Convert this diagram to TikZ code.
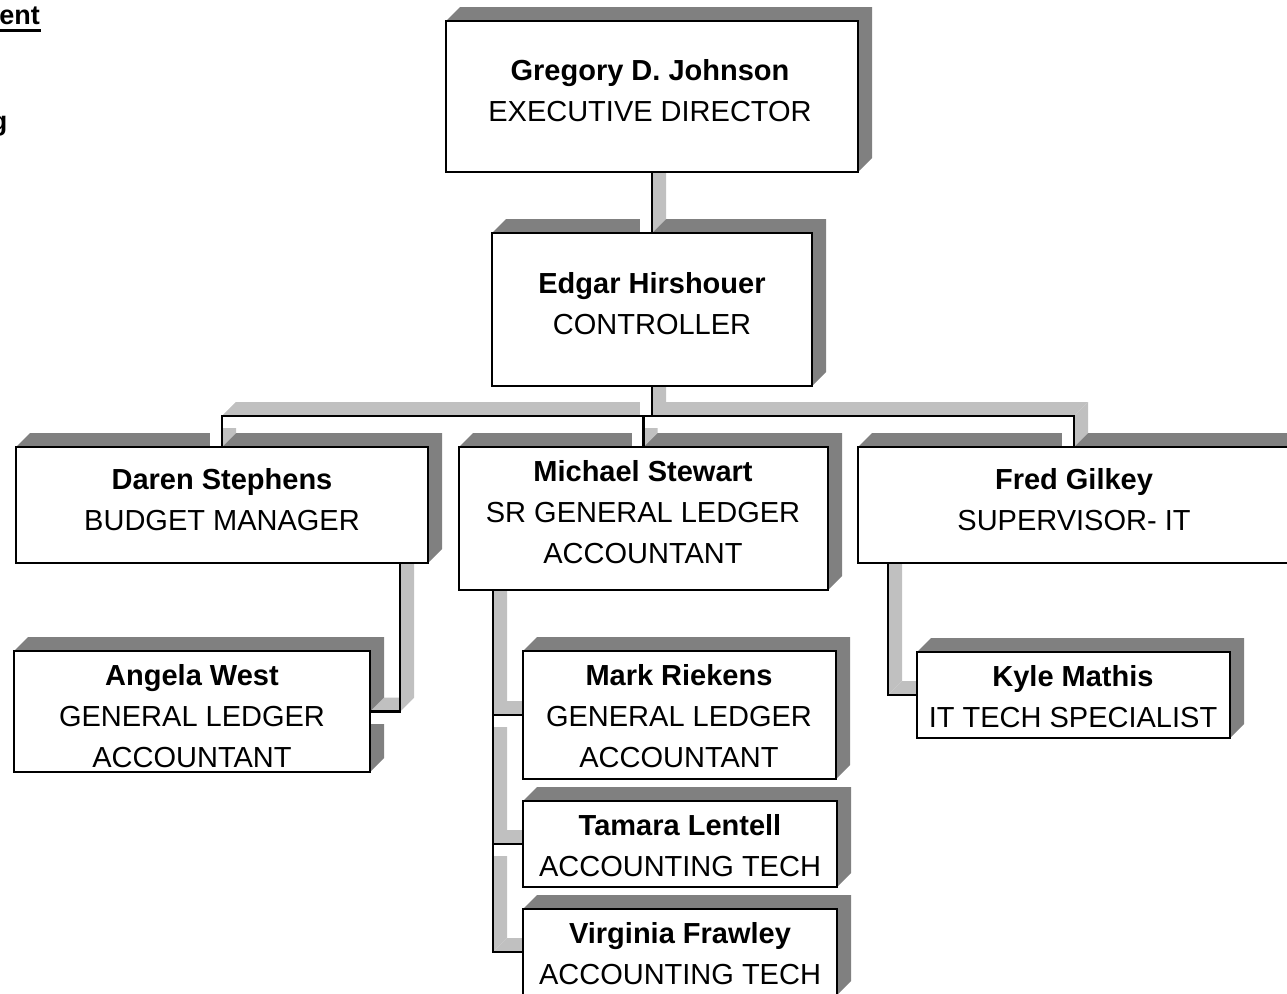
\documentclass[tikz,border=0pt]{standalone}
\usepackage{fontspec}
\setmainfont{Liberation Sans}
\usetikzlibrary{calc}
\definecolor{shadowc}{HTML}{808080}
\definecolor{wallc}{HTML}{C0C0C0}
\pgfdeclarelayer{bg}
\pgfdeclarelayer{mid}
\pgfsetlayers{bg,mid,main}
\newcommand\OCvseg[2]{%
 \fill[white] ($(#1)+(-12,0)$) rectangle (#2);
 \fill[wallc] (#1) -- (#2) -- ($(#2)+(14,-14)$) -- ($(#1)+(14,-14)$) -- cycle;}
\newcommand\OChseg[2]{%
 \fill[white] (#1) rectangle ($(#2)+(0,12)$);
 \fill[wallc] (#1) -- (#2) -- ($(#2)+(14,-14)$) -- ($(#1)+(14,-14)$) -- cycle;}
\newcommand\OCshadow[1]{%
 \fill[shadowc] (#1.north west) -- ++(14,-14) -- ($(#1.north east)+(14,-14)$) -- ($(#1.south east)+(14,-14)$) -- (#1.south east) -- cycle;}
\begin{document}
\begin{tikzpicture}[x=1pt,y=-1pt,
 ocbox/.style={draw=black, fill=white, line width=2.2pt, inner sep=0pt, outer sep=0pt},
 octxt/.style={align=center, inner sep=0pt, font=\fontsize{29}{41}\selectfont},
 occonn/.style={line width=2.4pt, line cap=rect},
 ochdr/.style={anchor=base east, inner sep=0pt, font=\bfseries\fontsize{27}{30}\selectfont}]
\useasboundingbox (0,0) rectangle (1287,993);

% boxes (front faces)
\node[ocbox, minimum width=412, minimum height=151] (exec) at (652,96.5) {};
\node[ocbox, minimum width=320, minimum height=153] (ctrl) at (652,309.5) {};
\node[ocbox, minimum width=412, minimum height=116] (daren) at (222,505) {};
\node[ocbox, minimum width=369, minimum height=143] (mich) at (643.5,518.5) {};
\node[ocbox, minimum width=432, minimum height=116] (fred) at (1074,505) {};
\node[ocbox, minimum width=356, minimum height=121] (angela) at (192,711.5) {};
\node[ocbox, minimum width=313, minimum height=128] (mark) at (679.5,715) {};
\node[ocbox, minimum width=314, minimum height=86] (tamara) at (680,844) {};
\node[ocbox, minimum width=314, minimum height=86] (virginia) at (680,952) {};
\node[ocbox, minimum width=313, minimum height=86] (kyle) at (1073.5,695) {};

% texts
\node[octxt] (exec-t) at (650,91) {\textbf{Gregory D. Johnson}\\EXECUTIVE DIRECTOR};
\node[octxt] (ctrl-t) at (652,304) {\textbf{Edgar Hirshouer}\\CONTROLLER};
\node[octxt] (daren-t) at (222,500) {\textbf{Daren Stephens}\\BUDGET MANAGER};
\node[octxt] (mich-t) at (643,512) {\textbf{Michael Stewart}\\SR GENERAL LEDGER\\ACCOUNTANT};
\node[octxt] (fred-t) at (1074,500) {\textbf{Fred Gilkey}\\SUPERVISOR- IT};
\node[octxt] (angela-t) at (192,716) {\textbf{Angela West}\\GENERAL LEDGER\\ACCOUNTANT};
\node[octxt] (mark-t) at (679,716) {\textbf{Mark Riekens}\\GENERAL LEDGER\\ACCOUNTANT};
\node[octxt] (tamara-t) at (680,845.5) {\textbf{Tamara Lentell}\\ACCOUNTING TECH};
\node[octxt] (virginia-t) at (680,953.5) {\textbf{Virginia Frawley}\\ACCOUNTING TECH};
\node[octxt] (kyle-t) at (1073,696.5) {\textbf{Kyle Mathis}\\IT TECH SPECIALIST};

% cut-off heading fragments
\node[ochdr] (hdr1) at (40,24) {ent};
\draw[line width=3pt] ([xshift=-20pt,yshift=-6pt]hdr1.base west) -- ([xshift=1pt,yshift=-6pt]hdr1.base east);
\node[ochdr] (hdr2) at (7.5,130) {g};

% junction coordinates
\coordinate (ctrlbar) at ($(ctrl.south)+(0,30)$);
\coordinate (barL) at (daren.north |- ctrlbar);
\coordinate (barM) at (mich.north |- ctrlbar);
\coordinate (barR) at (fred.north |- ctrlbar);
\coordinate (darenout) at ($(daren.south east)+(-28,0)$);
\coordinate (darenbend) at (darenout |- angela.east);
\coordinate (michout) at ($(mich.south west)+(34,0)$);
\coordinate (markj) at (michout |- mark.west);
\coordinate (tamj) at (michout |- tamara.west);
\coordinate (virgj) at (michout |- virginia.west);
\coordinate (fredout) at ($(fred.south west)+(30,0)$);
\coordinate (fredbend) at (fredout |- kyle.west);

% shadows
\begin{pgfonlayer}{bg}
\foreach \n in {exec,ctrl,daren,mich,fred,angela,mark,tamara,virginia,kyle}{\OCshadow{\n}}
\end{pgfonlayer}

% connectors
\begin{pgfonlayer}{mid}
\OCvseg{barL}{daren.north}
\OCvseg{barM}{mich.north}
\OCvseg{barR}{fred.north}
\OChseg{barL}{barR}
\OCvseg{ctrl.south}{ctrlbar}
\OCvseg{exec.south}{ctrl.north}
\OCvseg{darenout}{darenbend}
\OChseg{angela.east}{darenbend}
\OCvseg{michout}{virgj}
\OChseg{markj}{mark.west}
\OChseg{tamj}{tamara.west}
\OChseg{virgj}{virginia.west}
\OCvseg{fredout}{fredbend}
\OChseg{fredbend}{kyle.west}
\draw[occonn] (exec.south) -- (ctrl.north);
\draw[occonn] (ctrl.south) -- (ctrlbar);
\draw[occonn] (daren.north) -- (barL) -- (barR) -- (fred.north);
\draw[occonn] (barM) -- (mich.north);
\draw[occonn] (darenout) -- (darenbend) -- (angela.east);
\draw[occonn] (michout) -- (virgj) -- (virginia.west);
\draw[occonn] (markj) -- (mark.west);
\draw[occonn] (tamj) -- (tamara.west);
\draw[occonn] (fredout) -- (fredbend) -- (kyle.west);
\end{pgfonlayer}
\end{tikzpicture}
\end{document}
